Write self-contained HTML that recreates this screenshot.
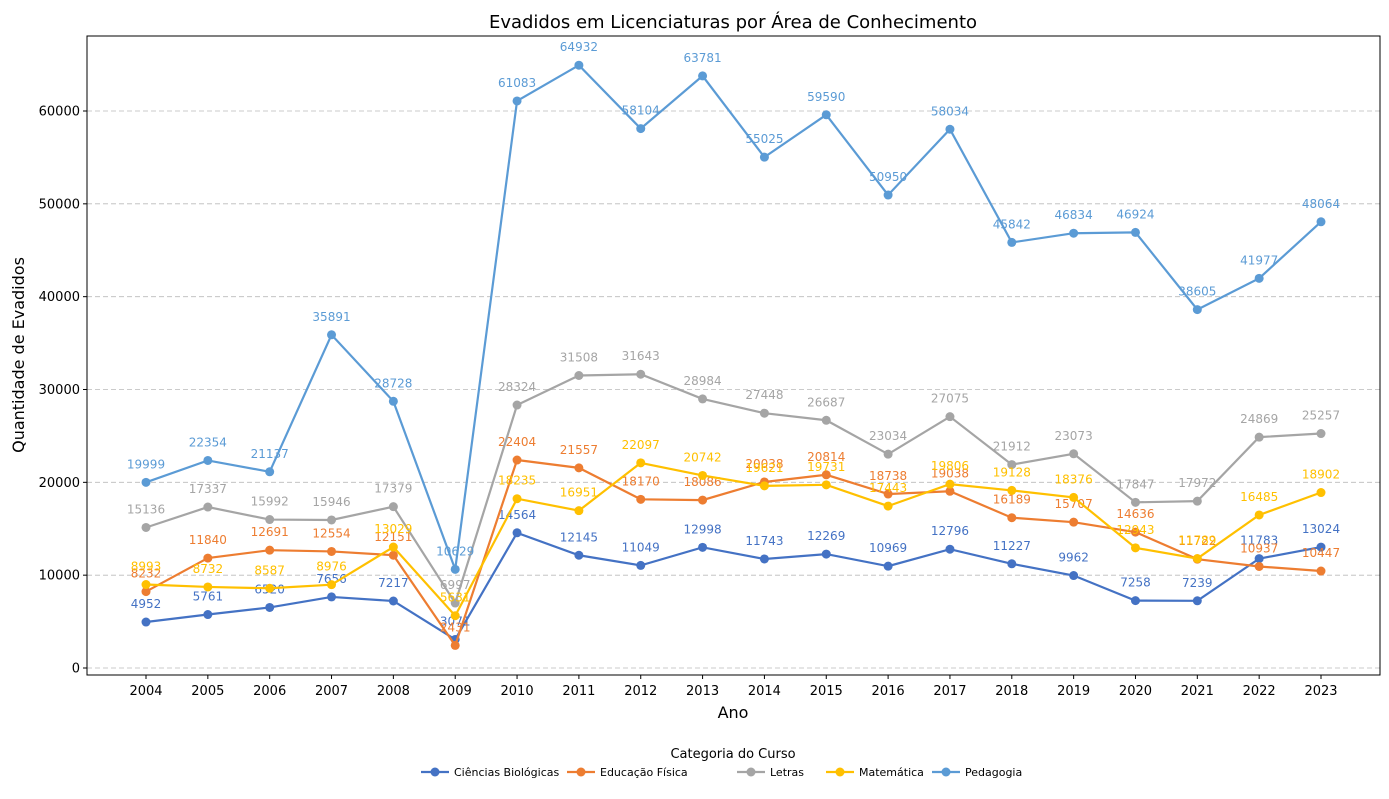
<!DOCTYPE html>
<html><head><meta charset="utf-8"><style>
body{margin:0;background:#fff;font-family:"Liberation Sans","DejaVu Sans",sans-serif;}
svg text{font-family:"DejaVu Sans","Liberation Sans",sans-serif;}
</style></head><body>
<svg id="c" width="1389" height="794"></svg>
<script>
const years=[2004,2005,2006,2007,2008,2009,2010,2011,2012,2013,2014,2015,2016,2017,2018,2019,2020,2021,2022,2023];
const seriesNames=["Ciências Biológicas","Educação Física","Letras","Matemática","Pedagogia"];
const colors=["#4472C4","#ED7D31","#A5A5A5","#FFC000","#5B9BD5"];
const cienciasBio=[4952,5761,6520,7656,7217,3071,14564,12145,11049,12998,11743,12269,10969,12796,11227,9962,7258,7239,11783,13024];
const educacaoFisica=[8232,11840,12691,12554,12151,2431,22404,21557,18170,18086,20038,20814,18738,19038,16189,15707,14636,11722,10937,10447];
const letras=[15136,17337,15992,15946,17379,6997,28324,31508,31643,28984,27448,26687,23034,27075,21912,23073,17847,17972,24869,25257];
const matematica=[8993,8732,8587,8976,13029,5631,18235,16951,22097,20742,19621,19731,17443,19806,19128,18376,12943,11789,16485,18902];
const pedagogia=[19999,22354,21137,35891,28728,10629,61083,64932,58104,63781,55025,59590,50950,58034,45842,46834,46924,38605,41977,48064];
const yTicks=[0,10000,20000,30000,40000,50000,60000];
const allSeries=[cienciasBio,educacaoFisica,letras,matematica,pedagogia];
const NS="http://www.w3.org/2000/svg";
const svg=document.getElementById('c');
const L=87,R=1380,T=36,B=675;
const xs=y=>146+(y-2004)*(1321-146)/19;
const ys=v=>668-v*(668-111)/60000;
function el(t,a,p){const e=document.createElementNS(NS,t);for(const k in a)e.setAttribute(k,a[k]);(p||svg).appendChild(e);return e;}
yTicks.forEach(v=>{
  const g=el('line',{x1:L,x2:R,y1:ys(v),y2:ys(v),stroke:'#bbb','stroke-dasharray':'5,3','stroke-width':0.8});
  
  
  el('line',{x1:L-4,x2:L,y1:ys(v),y2:ys(v),stroke:'#000'});
  const t=el('text',{x:L-7,y:ys(v)+4.5,'text-anchor':'end','font-size':13});t.textContent=v;
  
  
});
years.forEach(yr=>{
  el('line',{x1:xs(yr),x2:xs(yr),y1:B,y2:B+4,stroke:'#000'});
  const t=el('text',{x:xs(yr),y:B+20,'text-anchor':'middle','font-size':13});t.textContent=yr;
  
  
});
allSeries.forEach((s,i)=>{
  const g=el('g',{});
  
  
  el('polyline',{points:s.map((v,j)=>xs(years[j])+','+ys(v)).join(' '),fill:'none',stroke:colors[i],'stroke-width':2.2},g);
  s.forEach((v,j)=>{
    const c=el('circle',{cx:xs(years[j]),cy:ys(v),r:4.5,fill:colors[i]},g);
    
    
    const t=el('text',{x:xs(years[j]),y:ys(v)-14,'text-anchor':'middle','font-size':12,fill:colors[i]},g);t.textContent=v;
    
    
  });
});
const fr=el('rect',{x:L,y:T,width:R-L,height:B-T,fill:'none',stroke:'#000','stroke-width':1});


let t=el('text',{x:733,y:28,'text-anchor':'middle','font-size':18});t.textContent='Evadidos em Licenciaturas por Área de Conhecimento';

t=el('text',{x:733,y:718,'text-anchor':'middle','font-size':16});t.textContent='Ano';

t=el('text',{x:24,y:355,'text-anchor':'middle','font-size':16,transform:'rotate(-90 24 355)'});t.textContent='Quantidade de Evadidos';

t=el('text',{x:733,y:758,'text-anchor':'middle','font-size':13});t.textContent='Categoria do Curso';

const lx=[421,758-337+337,0];
const starts=[421,567,737,826,932];
seriesNames.forEach((n,i)=>{
  const g=el('g',{});
  
  
  const x=starts[i];
  el('line',{x1:x,x2:x+28,y1:772,y2:772,stroke:colors[i],'stroke-width':2.2},g);
  el('circle',{cx:x+14,cy:772,r:4.5,fill:colors[i]},g);
  const tt=el('text',{x:x+33,y:776,'font-size':11},g);tt.textContent=n;
});
</script>
</body></html>
